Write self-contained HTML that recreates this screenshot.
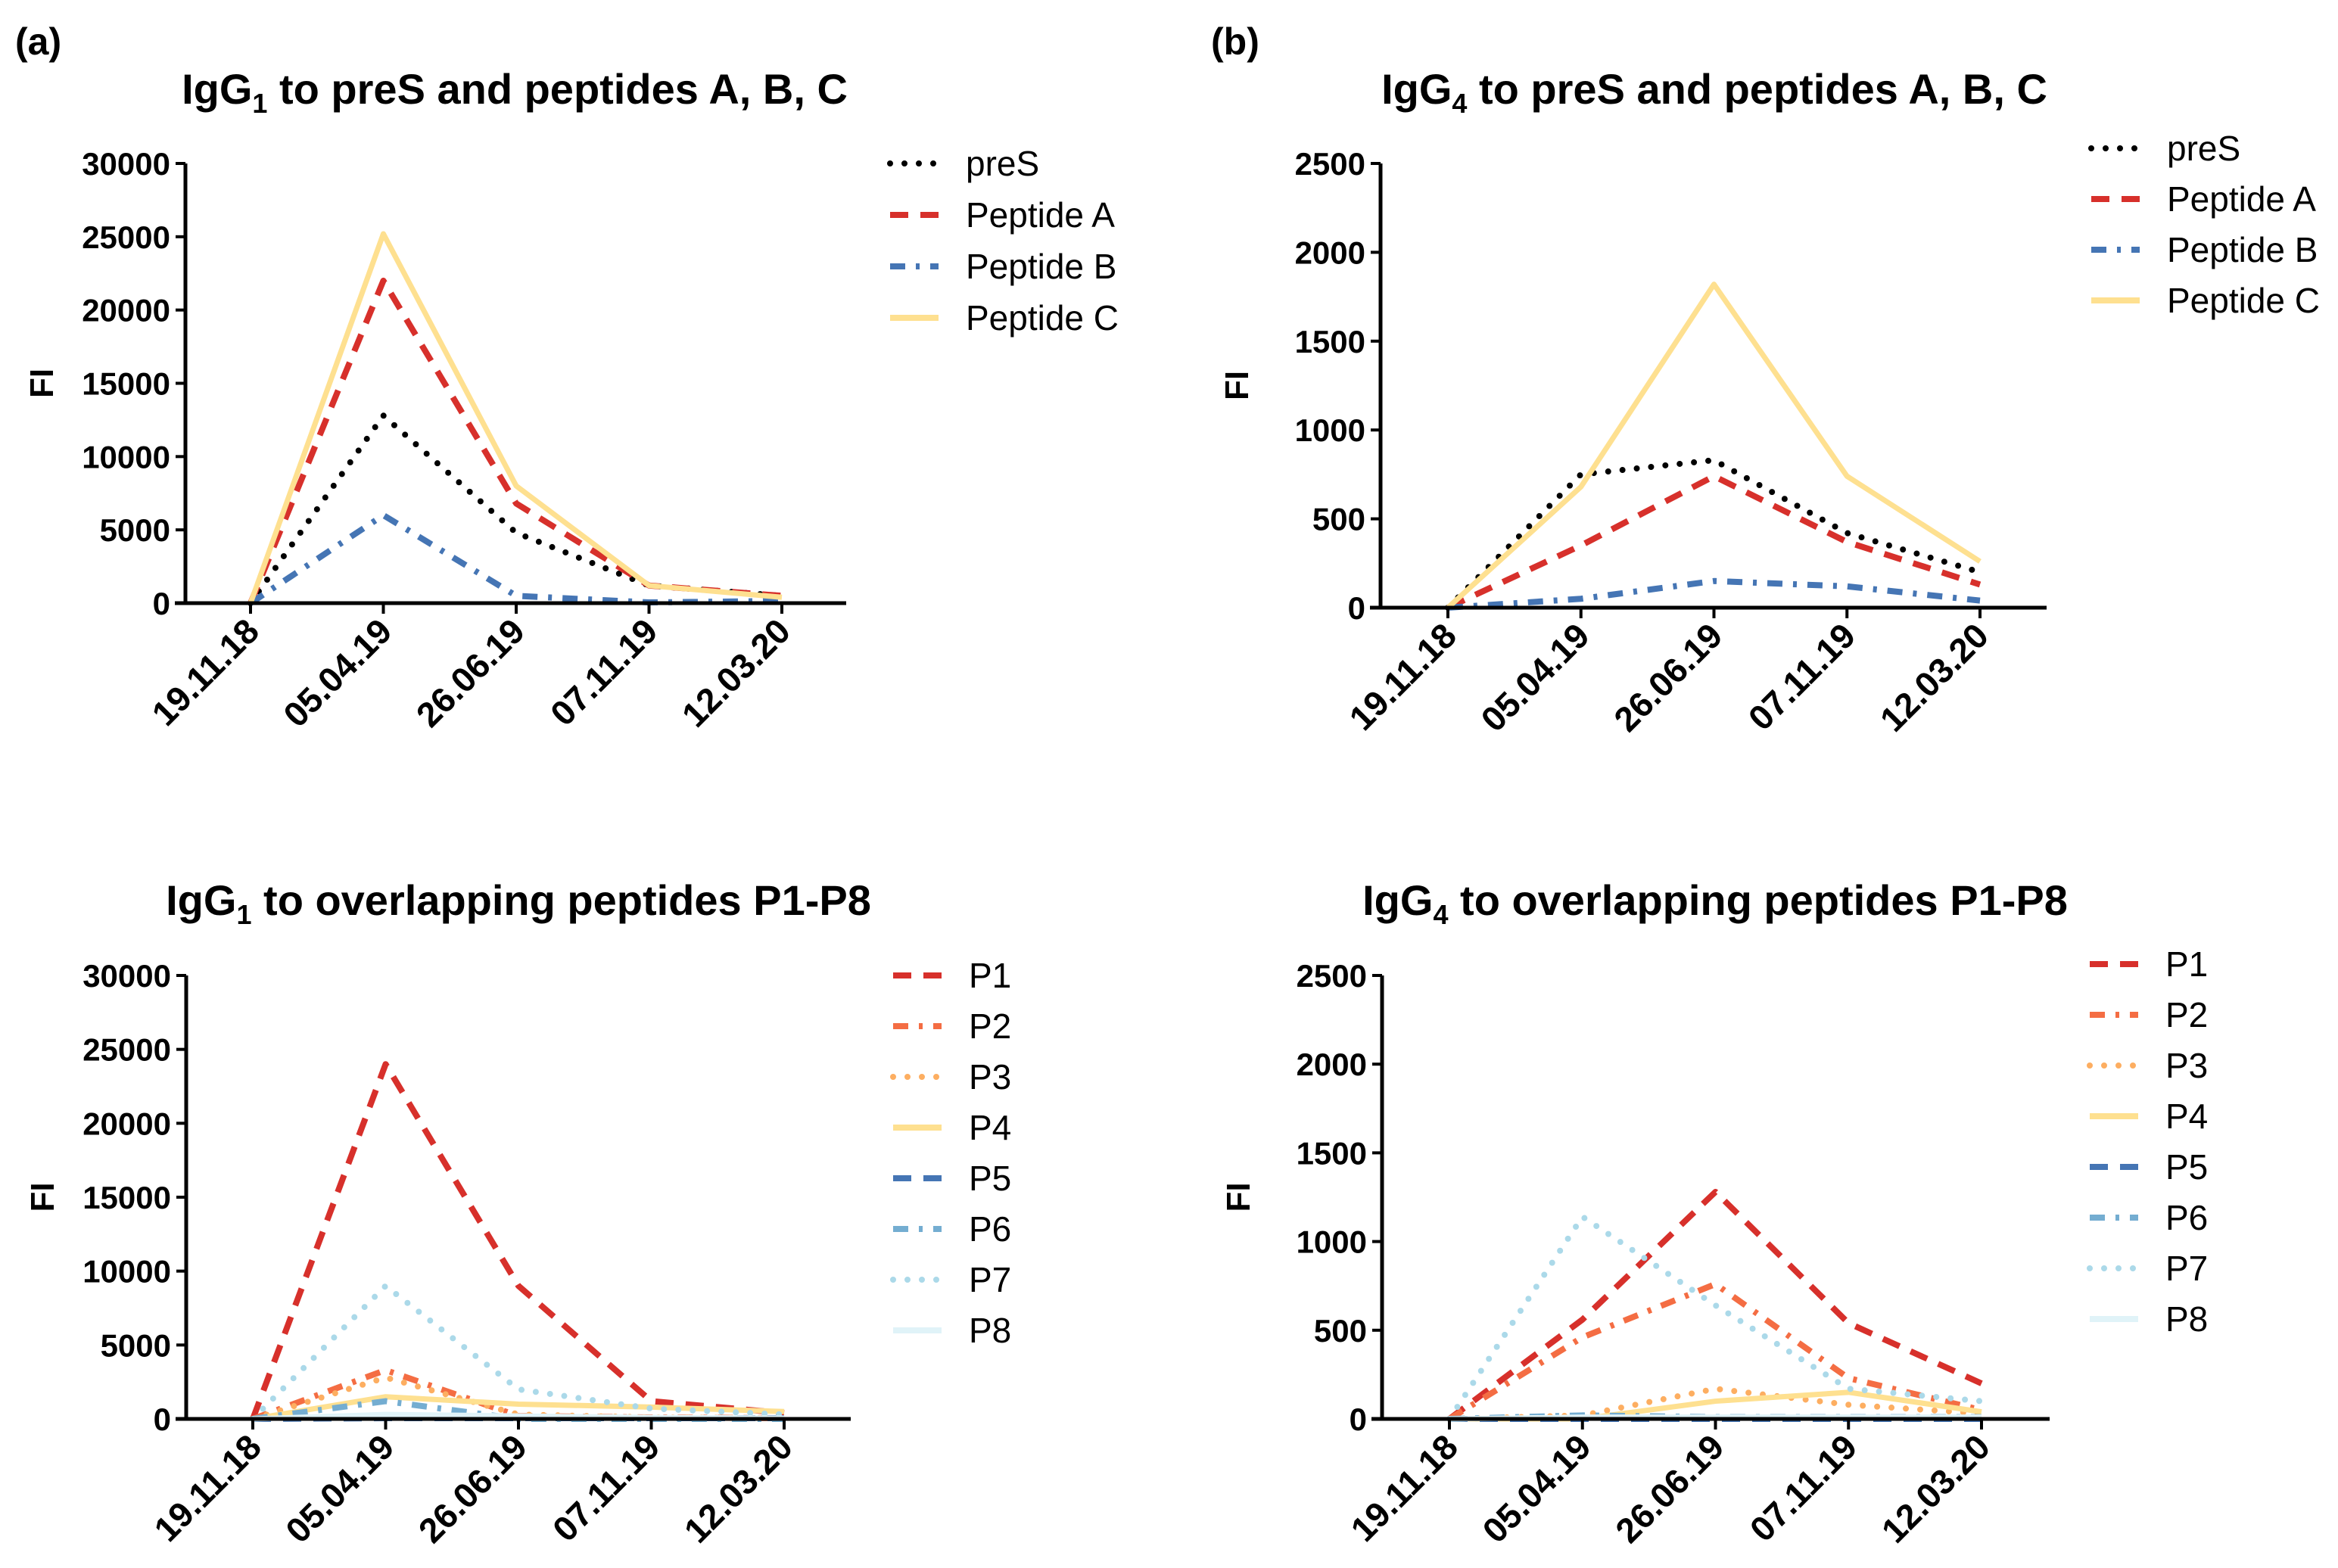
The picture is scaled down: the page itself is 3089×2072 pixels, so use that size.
<!DOCTYPE html>
<html><head><meta charset="utf-8">
<style>
html,body{margin:0;padding:0;background:#fff;}
svg{display:block;font-family:"Liberation Sans",Arial,sans-serif;}
</style></head>
<body>
<svg id="fig" width="3089" height="2072" viewBox="0 0 3089 2072" xmlns="http://www.w3.org/2000/svg">
<rect width="3089" height="2072" fill="#fff"/>
<text x="20" y="72" font-size="50" font-weight="bold">(a)</text>
<text x="1600" y="72" font-size="50" font-weight="bold">(b)</text>
</svg>
<script>
const dates = ["19.11.18","05.04.19","26.06.19","07.11.19","12.03.20"];
const ticksA = [0,5000,10000,15000,20000,25000,30000];
const ticksB = [0,500,1000,1500,2000,2500];

const a_preS = [0,12800,4800,1200,500];
const a_pepA = [0,22000,6800,1200,500];
const a_pepB = [0,6000,500,50,150];
const a_pepC = [0,25200,8000,1200,400];

const b_preS = [0,750,830,420,200];
const b_pepA = [0,350,740,370,130];
const b_pepB = [0,50,150,120,40];
const b_pepC = [0,680,1820,740,260];

const c_P1 = [0,24000,9000,1200,400];
const c_P2 = [0,3300,200,100,50];
const c_P3 = [0,2800,300,100,50];
const c_P4 = [0,1500,1000,800,500];
const c_P5 = [0,50,50,50,50];
const c_P6 = [0,1200,0,0,0];
const c_P7 = [0,9000,2000,700,300];
const c_P8 = [0,300,200,100,50];

const d_P1 = [0,560,1280,540,200];
const d_P2 = [0,460,760,230,50];
const d_P3 = [0,20,170,80,30];
const d_P4 = [0,0,100,150,40];
const d_P5 = [0,0,0,0,0];
const d_P6 = [0,20,10,10,10];
const d_P7 = [0,1140,640,170,100];
const d_P8 = [0,10,10,10,10];

const NS="http://www.w3.org/2000/svg";
const svg=document.getElementById('fig');
const ST={
 dot:{dash:"0 19",cap:"round"},
 dash:{dash:"24 16",cap:"butt"},
 dashdot:{dash:"20 14 5 14",cap:"butt"},
 solid:{dash:"",cap:"butt"}
};
function mk(tag,attrs,parent){const e=document.createElementNS(NS,tag);for(const k in attrs)e.setAttribute(k,attrs[k]);(parent||svg).appendChild(e);return e;}

function chart(cfg){
 const g=mk('g',{});
 
 
 const ymax=cfg.ticks[cfg.ticks.length-1];
 const y=v=>cfg.y0-(v/ymax)*(cfg.y0-cfg.y1);
 const x=i=>cfg.xs[0]+i*(cfg.xs[1]-cfg.xs[0]);
 const t=mk('text',{x:cfg.tx,y:cfg.ty,'font-size':56,'font-weight':'bold','text-anchor':'middle'},g);
 
 
 t.appendChild(document.createTextNode('IgG'));
 const sub=mk('tspan',{'font-size':36,dy:12},t);sub.textContent=cfg.sub;
 const rest=mk('tspan',{dy:-12},t);rest.textContent=' '+cfg.title;
 const yl=mk('text',{x:0,y:0,'font-size':44,'font-weight':'bold','text-anchor':'middle',transform:`translate(${cfg.ax-175},${(cfg.y0+cfg.y1)/2}) rotate(-90)`},g);
 
 
 yl.textContent='FI';
 cfg.series.forEach(s=>{
  const pts=s.v.map((v,i)=>x(i)+','+y(v)).join(' ');
  const st=ST[s.style];
  const p=mk('polyline',{points:pts,fill:'none',stroke:s.c,'stroke-width':s.style==='solid'?7:8,'stroke-dasharray':st.dash,'stroke-linecap':st.cap,'stroke-linejoin':'round'},g);
  
  
 });
 const ya=mk('line',{x1:cfg.ax,y1:cfg.y1,x2:cfg.ax,y2:cfg.y0+2,stroke:'#000','stroke-width':5},g);
 
 
 const xa=mk('line',{x1:cfg.ax-14,y1:cfg.y0,x2:cfg.xend,y2:cfg.y0,stroke:'#000','stroke-width':5},g);
 
 
 cfg.ticks.forEach(v=>{
  mk('line',{x1:cfg.ax-13,y1:y(v),x2:cfg.ax,y2:y(v),stroke:'#000','stroke-width':4},g);
  const tl=mk('text',{x:cfg.ax-20,y:y(v)+15,'font-size':42,'font-weight':'bold','text-anchor':'end'},g);
  
  
  tl.textContent=v;
 });
 dates.forEach((d,i)=>{
  mk('line',{x1:x(i),y1:cfg.y0,x2:x(i),y2:cfg.y0+14,stroke:'#000','stroke-width':4},g);
  const xl=mk('text',{x:0,y:0,'font-size':46,'font-weight':'bold','text-anchor':'end',transform:`translate(${x(i)+14},${cfg.y0+40}) rotate(-45)`},g);
  
  
  xl.textContent=d;
 });
 cfg.series.forEach((s,k)=>{
  const ly=cfg.ly+k*cfg.lstep;
  const st=ST[s.style];
  const ll=mk('line',{x1:cfg.lx,y1:ly,x2:cfg.lx+64,y2:ly,stroke:s.c,'stroke-width':8,'stroke-dasharray':st.dash,'stroke-linecap':st.cap},g);
  
  
  const lt=mk('text',{x:cfg.lx+100,y:ly+16,'font-size':46},g);
  
  
  lt.textContent=s.n;
 });
}
const RED="#d7302b",OR="#f46d43",LOR="#fdae61",YEL="#fee090",DB="#4575b4",MB="#74add1",LB="#abd9e9",PB="#e0f3f8";
const abc=(p,A,B,C)=>[{n:'preS',v:p,c:'#000',style:'dot'},{n:'Peptide A',v:A,c:RED,style:'dash'},{n:'Peptide B',v:B,c:DB,style:'dashdot'},{n:'Peptide C',v:C,c:YEL,style:'solid'}];
const pp=(a)=>[{n:'P1',v:a[0],c:RED,style:'dash'},{n:'P2',v:a[1],c:OR,style:'dashdot'},{n:'P3',v:a[2],c:LOR,style:'dot'},{n:'P4',v:a[3],c:YEL,style:'solid'},{n:'P5',v:a[4],c:DB,style:'dash'},{n:'P6',v:a[5],c:MB,style:'dashdot'},{n:'P7',v:a[6],c:LB,style:'dot'},{n:'P8',v:a[7],c:PB,style:'solid'}];

chart({name:'chart-igg1-pres',sub:'1',title:'to preS and peptides A, B, C',tx:680,ty:137,ax:245,y0:797,y1:216,xs:[331,506.5],xend:1118,ticks:ticksA,lx:1176,ly:216,lstep:68,series:abc(a_preS,a_pepA,a_pepB,a_pepC)});
chart({name:'chart-igg4-pres',sub:'4',title:'to preS and peptides A, B, C',tx:2265,ty:137,ax:1824,y0:803,y1:216,xs:[1913,2088.75],xend:2704,ticks:ticksB,lx:2763,ly:196,lstep:67,series:abc(b_preS,b_pepA,b_pepB,b_pepC)});
chart({name:'chart-igg1-p1-p8',sub:'1',title:'to overlapping peptides P1-P8',tx:685,ty:1209,ax:246,y0:1875,y1:1289,xs:[334,509.5],xend:1124,ticks:ticksA,lx:1180,ly:1289,lstep:67,series:pp([c_P1,c_P2,c_P3,c_P4,c_P5,c_P6,c_P7,c_P8])});
chart({name:'chart-igg4-p1-p8',sub:'4',title:'to overlapping peptides P1-P8',tx:2266,ty:1209,ax:1826,y0:1875,y1:1289,xs:[1915,2090.75],xend:2708,ticks:ticksB,lx:2761,ly:1274,lstep:67,series:pp([d_P1,d_P2,d_P3,d_P4,d_P5,d_P6,d_P7,d_P8])});
</script>
</body></html>
